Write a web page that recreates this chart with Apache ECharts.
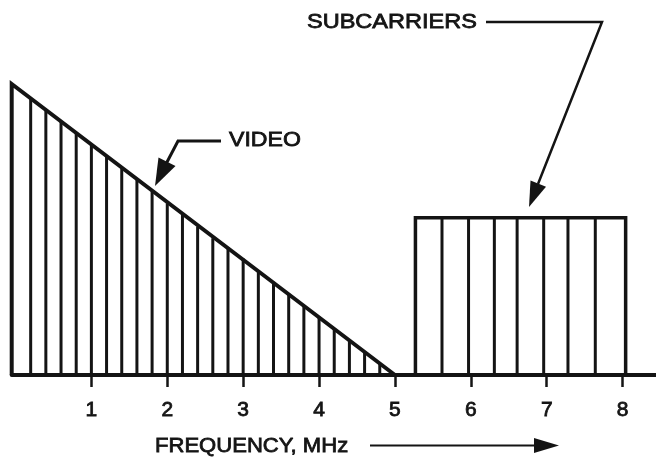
<!DOCTYPE html>
<html>
<head>
<meta charset="utf-8">
<script src="https://cdn.jsdelivr.net/npm/echarts@6/dist/echarts.min.js"></script>
<style>
html,body{margin:0;padding:0;background:#fff;}
#chart{width:656px;height:458px;}
</style>
</head>
<body>
<div id="chart"></div>
<script>
// ---- data ----
// Frequency tick labels (MHz)
var tickValues = [1, 2, 3, 4, 5, 6, 7, 8];
// Video spectrum envelope (frequency MHz, relative amplitude)
var videoEnvelope = [[-0.05, 0], [-0.05, 1.0], [5.0, 0]];
// Video hatch lines: frequency positions and the heights where they meet the slope
var videoHatchX = [0.2, 0.4, 0.6, 0.8, 1.0, 1.2, 1.4, 1.6, 1.8, 2.0, 2.2, 2.4, 2.6, 2.8, 3.0, 3.2, 3.4, 3.6, 3.8, 4.0, 4.2, 4.4, 4.6, 4.8];
var videoHatchH = [0.95, 0.91, 0.87, 0.83, 0.79, 0.75, 0.71, 0.67, 0.63, 0.59, 0.55, 0.51, 0.47, 0.44, 0.40, 0.36, 0.32, 0.28, 0.24, 0.20, 0.16, 0.12, 0.08, 0.04];
// Subcarrier block envelope
var subEnvelope = [[5.27, 0], [5.27, 0.54], [8.04, 0.54], [8.04, 0]];
// Subcarrier hatch lines
var subHatchX = [5.62, 5.97, 6.31, 6.61, 6.96, 7.28, 7.64];
var subHatchH = [0.54, 0.54, 0.54, 0.54, 0.54, 0.54, 0.54];
// Texts
var videoLabel = 'VIDEO';
var subLabel = 'SUBCARRIERS';
var axisTitle = 'FREQUENCY, MHz';

var INK = '#141414';
var FONT = '"Liberation Sans", Arial, Helvetica, sans-serif';

function pairs(xs, hs) {
  return xs.map(function (x, i) { return [x, hs[i]]; });
}

function hatchRender(params, api) {
  var p0 = api.coord([api.value(0), 0]);
  var p1 = api.coord([api.value(0), api.value(1)]);
  return {
    type: 'line',
    shape: { x1: p0[0], y1: p0[1], x2: p1[0], y2: p1[1] },
    style: { stroke: INK, lineWidth: 3 }
  };
}

var chart = echarts.init(document.getElementById('chart'), null, { renderer: 'canvas' });

var option = {
  backgroundColor: '#ffffff',
  animation: false,
  grid: { left: 11.7, right: 0, top: 84, bottom: 83, containLabel: false },
  xAxis: {
    type: 'value',
    min: -0.05,
    max: 8.44,
    splitLine: { show: false },
    axisLine: { show: true, onZero: true, lineStyle: { color: INK, width: 4 } },
    axisTick: { show: true, customValues: tickValues, length: 12, inside: false, lineStyle: { color: INK, width: 2.5 } },
    axisLabel: { show: true, customValues: tickValues, margin: 25, fontSize: 21, color: INK, fontFamily: FONT, textBorderColor: INK, textBorderWidth: 0.8 }
  },
  yAxis: {
    type: 'value',
    min: 0,
    max: 1,
    show: false,
    splitLine: { show: false }
  },
  series: [
    {
      type: 'custom',
      renderItem: hatchRender,
      data: pairs(videoHatchX, videoHatchH),
      clip: false,
      z: 2
    },
    {
      type: 'custom',
      renderItem: hatchRender,
      data: pairs(subHatchX, subHatchH),
      clip: false,
      z: 2
    },
    {
      type: 'line',
      data: videoEnvelope,
      symbol: 'none',
      clip: false,
      lineStyle: { color: INK, width: 4, join: 'miter' },
      z: 3
    },
    {
      type: 'line',
      data: subEnvelope,
      symbol: 'none',
      clip: false,
      lineStyle: { color: INK, width: 3.5, join: 'miter' },
      z: 3
    }
  ],
  graphic: [
    // SUBCARRIERS annotation
    {
      type: 'text', x: 307, y: 22.5, scaleX: 1.12,
      style: { text: subLabel, font: '21px ' + FONT, fill: INK, stroke: INK, lineWidth: 0.8, align: 'left', verticalAlign: 'middle' }
    },
    {
      type: 'polyline',
      shape: { points: [[486, 22], [602, 22], [538, 184]] },
      style: { stroke: INK, lineWidth: 2.5, fill: null }
    },
    {
      type: 'polygon',
      shape: { points: [[529, 207], [530.5, 180.5], [546, 186.7]] },
      style: { fill: INK }
    },
    // VIDEO annotation
    {
      type: 'text', x: 229, y: 140.5, scaleX: 1.10,
      style: { text: videoLabel, font: '21px ' + FONT, fill: INK, stroke: INK, lineWidth: 0.8, align: 'left', verticalAlign: 'middle' }
    },
    {
      type: 'polyline',
      shape: { points: [[221, 141], [178, 141], [166, 164]] },
      style: { stroke: INK, lineWidth: 3, fill: null }
    },
    {
      type: 'polygon',
      shape: { points: [[155, 186], [158.5, 157.5], [175.5, 166]] },
      style: { fill: INK }
    },
    // axis title
    {
      type: 'text', x: 155, y: 446, scaleX: 1.05,
      style: { text: axisTitle, font: '21px ' + FONT, fill: INK, stroke: INK, lineWidth: 0.8, align: 'left', verticalAlign: 'middle' }
    },
    {
      type: 'line',
      shape: { x1: 370, y1: 445.5, x2: 540, y2: 445.5 },
      style: { stroke: INK, lineWidth: 2 }
    },
    {
      type: 'polygon',
      shape: { points: [[534, 438], [559, 445.5], [534, 453]] },
      style: { fill: INK }
    }
  ]
};

chart.setOption(option);
</script>
</body>
</html>
